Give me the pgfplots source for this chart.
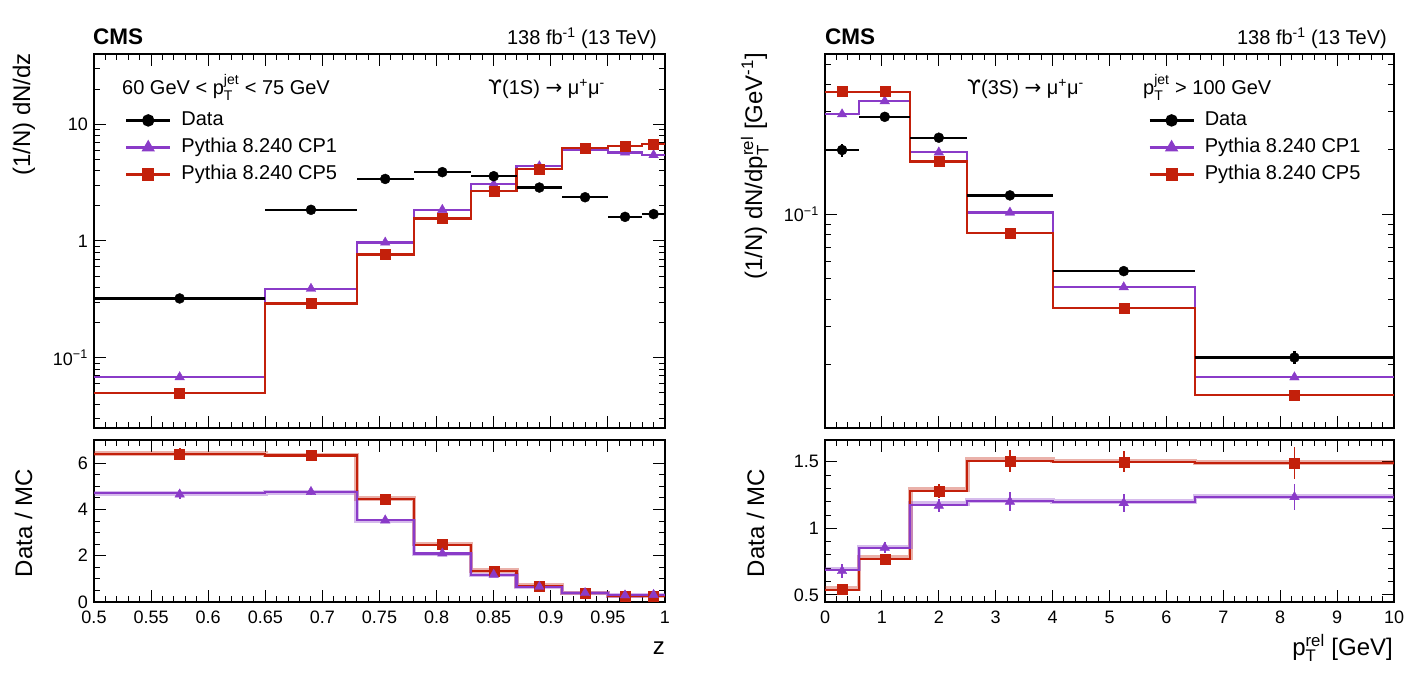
\documentclass[border=0pt]{standalone}
\usepackage{pgfplots}
\pgfplotsset{compat=1.18}
\usepackage{amsmath}
\usepackage{fontspec}
\setmainfont{Liberation Sans}
\newfontfamily\dejavu{DejaVu Sans}
\definecolor{cpone}{HTML}{8A3BC8}
\definecolor{cpfive}{HTML}{C3200B}
\newcommand{\fs}[1]{\fontsize{#1bp}{#1bp}\selectfont}

\pgfplotsset{
  rootax/.style={
    scale only axis,
    axis line style={line width=1.1bp},
    tick style={line width=1bp, black},
    tick align=inside,
    tick pos=both,
    major tick length=12bp,
    minor tick length=6bp,
    tick label style={font=\fs{18}, inner sep=1bp},
    xticklabel style={yshift=-8bp},
    yticklabel style={xshift=-5bp},
    /pgf/number format/assume math mode=true,
  },
  hist/.style={const plot, no marks, line width=2.2bp},
  band/.style={const plot, no marks, line width=4.5bp, opacity=0.35},
  datapts/.style={only marks, mark=*, black, mark size=5bp,
    error bars/.cd, x dir=both, x explicit, y dir=both, y explicit,
    error mark=none, error bar style={line width=2.4bp, black}},
  cponepts/.style={only marks, mark=triangle*, cpone, mark size=5.5bp,
    error bars/.cd, y dir=both, y explicit,
    error mark=none, error bar style={line width=1.8bp, cpone}},
  cpfivepts/.style={only marks, mark=square*, cpfive, mark size=5bp,
    error bars/.cd, y dir=both, y explicit,
    error mark=none, error bar style={line width=1.8bp, cpfive}},
  leg/.style={
    legend cell align=left,
    legend image code/.code={\draw[mark repeat=2,mark phase=2,##1] plot coordinates {(0bp,0bp) (22bp,0bp) (44bp,0bp)};},
    legend style={draw=none, fill=none, inner sep=0pt, font=\fs{20},
      row sep=9bp,
      nodes={inner sep=0pt, text height=14bp, text depth=4bp},
      /tikz/every odd column/.append style={column sep=10bp}},
  },
}

\begin{document}
\begin{tikzpicture}
\path (0,0) rectangle (1423bp,686bp);

% ---------------- Left top ----------------
\begin{axis}[rootax, leg,
  at={(94bp,258bp)}, anchor=south west, width=571bp, height=374bp,
  xmin=0.5, xmax=1, ymode=log, ymin=0.025, ymax=40,
  xtick={0.5,0.55,0.6,0.65,0.7,0.75,0.8,0.85,0.9,0.95,1}, minor x tick num=4,
  xticklabels={},
  ytick={0.1,1,10}, yticklabels={10\textsuperscript{−1},1,10},
  minor ytick={0.03,0.04,0.05,0.06,0.07,0.08,0.09,0.2,0.3,0.4,0.5,0.6,0.7,0.8,0.9,2,3,4,5,6,7,8,9,20,30,40},
  legend style={at={(0.054,0.847)}, anchor=north west},
]
\addlegendimage{black, line width=2.4bp, mark=*, mark size=5bp}
\addlegendentry{Data}
\addlegendimage{cpone, line width=2.2bp, mark=triangle*, mark size=5.5bp}
\addlegendentry{Pythia 8.240 CP1}
\addlegendimage{cpfive, line width=2.2bp, mark=square*, mark size=5bp}
\addlegendentry{Pythia 8.240 CP5}
\addplot[hist, cpone] coordinates {(0.5,0.0682)(0.65,0.390)(0.73,0.971)(0.78,1.85)(0.83,3.06)(0.87,4.37)(0.91,6.06)(0.95,5.74)(0.98,5.45)(1.0,5.45)};
\addplot[hist, cpfive] coordinates {(0.5,0.050)(0.65,0.292)(0.73,0.766)(0.78,1.56)(0.83,2.69)(0.87,4.15)(0.91,6.25)(0.95,6.55)(0.98,6.73)(1.0,6.73)};
\addplot[cponepts] coordinates {(0.575,0.0682)(0.69,0.390)(0.755,0.971)(0.805,1.85)(0.85,3.06)(0.89,4.37)(0.93,6.06)(0.965,5.74)(0.99,5.45)};
\addplot[cpfivepts] coordinates {(0.575,0.050)(0.69,0.292)(0.755,0.766)(0.805,1.56)(0.85,2.69)(0.89,4.15)(0.93,6.25)(0.965,6.55)(0.99,6.73)};
\addplot[datapts] coordinates {
 (0.575,0.322) +- (0.075,0.012)
 (0.69,1.85) +- (0.04,0.05)
 (0.755,3.40) +- (0.025,0.08)
 (0.805,3.89) +- (0.025,0.08)
 (0.85,3.59) +- (0.02,0.08)
 (0.89,2.87) +- (0.02,0.07)
 (0.93,2.37) +- (0.02,0.06)
 (0.965,1.61) +- (0.015,0.05)
 (0.99,1.70) +- (0.01,0.05)};
\end{axis}

% ---------------- Left bottom ----------------
\begin{axis}[rootax,
  at={(94bp,84bp)}, anchor=south west, width=571bp, height=162bp,
  xmin=0.5, xmax=1, ymin=0, ymax=7,
  xtick={0.5,0.55,0.6,0.65,0.7,0.75,0.8,0.85,0.9,0.95,1}, minor x tick num=4,
  xticklabels={0.5,0.55,0.6,0.65,0.7,0.75,0.8,0.85,0.9,0.95,1},
  ytick={0,2,4,6}, minor y tick num=3,
]
\addplot[band, cpfive] coordinates {(0.5,6.42)(0.65,6.35)(0.73,4.47)(0.78,2.50)(0.83,1.36)(0.87,0.72)(0.91,0.39)(0.95,0.26)(0.98,0.27)(1.0,0.27)};
\addplot[band, cpone] coordinates {(0.5,4.68)(0.65,4.74)(0.73,3.51)(0.78,2.08)(0.83,1.16)(0.87,0.64)(0.91,0.38)(0.95,0.28)(0.98,0.30)(1.0,0.30)};
\addplot[hist, cpfive] coordinates {(0.5,6.40)(0.65,6.33)(0.73,4.45)(0.78,2.48)(0.83,1.34)(0.87,0.70)(0.91,0.38)(0.95,0.25)(0.98,0.26)(1.0,0.26)};
\addplot[hist, cpone] coordinates {(0.5,4.70)(0.65,4.76)(0.73,3.53)(0.78,2.10)(0.83,1.18)(0.87,0.66)(0.91,0.39)(0.95,0.29)(0.98,0.31)(1.0,0.31)};
\addplot[cpfivepts] coordinates {
 (0.575,6.40) +- (0,0.27) (0.69,6.33) +- (0,0.15) (0.755,4.45) +- (0,0.12)
 (0.805,2.48) +- (0,0.07) (0.85,1.34) +- (0,0.05) (0.89,0.70) +- (0,0.03)
 (0.93,0.38) +- (0,0.02) (0.965,0.25) +- (0,0.02) (0.99,0.26) +- (0,0.02)};
\addplot[cponepts] coordinates {
 (0.575,4.65) +- (0,0.2) (0.69,4.76) +- (0,0.12) (0.755,3.53) +- (0,0.1)
 (0.805,2.10) +- (0,0.06) (0.85,1.18) +- (0,0.04) (0.89,0.66) +- (0,0.03)
 (0.93,0.39) +- (0,0.02) (0.965,0.29) +- (0,0.02) (0.99,0.31) +- (0,0.02)};
\end{axis}

% ---------------- Right top ----------------
\begin{axis}[rootax, leg,
  at={(825bp,258bp)}, anchor=south west, width=569bp, height=374bp,
  xmin=0, xmax=10, ymode=log, ymin=0.0101, ymax=0.557,
  xtick={0,1,...,10}, minor x tick num=4, xticklabels={},
  ytick={0.1}, yticklabels={10\textsuperscript{−1}},
  minor ytick={0.02,0.03,0.04,0.05,0.06,0.07,0.08,0.09,0.2,0.3,0.4,0.5},
  legend style={at={(0.568,0.847)}, anchor=north west},
]
\addlegendimage{black, line width=2.4bp, mark=*, mark size=5bp}
\addlegendentry{Data}
\addlegendimage{cpone, line width=2.2bp, mark=triangle*, mark size=5.5bp}
\addlegendentry{Pythia 8.240 CP1}
\addlegendimage{cpfive, line width=2.2bp, mark=square*, mark size=5bp}
\addlegendentry{Pythia 8.240 CP5}
\addplot[hist, cpone] coordinates {(0,0.292)(0.6,0.336)(1.5,0.194)(2.5,0.1018)(4,0.0457)(6.5,0.0174)(10,0.0174)};
\addplot[hist, cpfive] coordinates {(0,0.372)(0.6,0.372)(1.5,0.176)(2.5,0.0815)(4,0.0365)(6.5,0.0144)(10,0.0144)};
\addplot[cponepts] coordinates {(0.3,0.292)(1.05,0.336)(2.0,0.194)(3.25,0.1018)(5.25,0.0457)(8.25,0.0174)};
\addplot[cpfivepts] coordinates {(0.3,0.372)(1.05,0.372)(2.0,0.176)(3.25,0.0815)(5.25,0.0365)(8.25,0.0144)};
\addplot[datapts] coordinates {
 (0.3,0.199) +- (0.3,0.014)
 (1.05,0.284) +- (0.45,0.006)
 (2.0,0.227) +- (0.5,0.005)
 (3.25,0.1223) +- (0.75,0.0025)
 (5.25,0.0543) +- (1.25,0.0012)
 (8.25,0.0215) +- (1.75,0.0015)};
\end{axis}

% ---------------- Right bottom ----------------
\begin{axis}[rootax,
  at={(825bp,84bp)}, anchor=south west, width=569bp, height=162bp,
  xmin=0, xmax=10, ymin=0.447, ymax=1.663,
  xtick={0,1,...,10}, minor x tick num=4,
  ytick={0.5,1,1.5}, yticklabels={0.5,1,1.5}, minor y tick num=4,
]
\addplot[band, cpfive] coordinates {(0,0.55)(0.6,0.78)(1.5,1.29)(2.5,1.515)(4,1.505)(6.5,1.495)(10,1.495)};
\addplot[band, cpone] coordinates {(0,0.695)(0.6,0.86)(1.5,1.185)(2.5,1.21)(4,1.20)(6.5,1.24)(10,1.24)};
\addplot[hist, cpfive] coordinates {(0,0.54)(0.6,0.77)(1.5,1.28)(2.5,1.505)(4,1.50)(6.5,1.49)(10,1.49)};
\addplot[hist, cpone] coordinates {(0,0.69)(0.6,0.855)(1.5,1.178)(2.5,1.205)(4,1.195)(6.5,1.238)(10,1.238)};
\addplot[cpfivepts] coordinates {
 (0.3,0.54) +- (0,0.04) (1.05,0.77) +- (0,0.03) (2.0,1.28) +- (0,0.05)
 (3.25,1.505) +- (0,0.08) (5.25,1.50) +- (0,0.08) (8.25,1.49) +- (0,0.12)};
\addplot[cponepts] coordinates {
 (0.3,0.68) +- (0,0.05) (1.05,0.855) +- (0,0.04) (2.0,1.17) +- (0,0.05)
 (3.25,1.20) +- (0,0.07) (5.25,1.19) +- (0,0.07) (8.25,1.235) +- (0,0.10)};
\end{axis}

% ---------------- Texts ----------------
\node[anchor=base west, inner sep=0pt, font=\bfseries\fs{22.5}] at (93bp,641bp) {CMS};
\node[anchor=base east, inner sep=0pt, font=\fs{20}] at (657bp,641bp) {138 fb\textsuperscript{-1} (13 TeV)};
\node[anchor=base west, inner sep=0pt, font=\bfseries\fs{22.5}] at (825bp,641bp) {CMS};
\node[anchor=base east, inner sep=0pt, font=\fs{20}] at (1387bp,641bp) {138 fb\textsuperscript{-1} (13 TeV)};

\node[anchor=base west, inner sep=0pt, font=\fs{20}] at (122bp,591bp) {60 GeV < p$_{\text{T}}^{\text{jet}}$ < 75 GeV};
\node[anchor=base west, inner sep=0pt, font=\fs{20}] at (488bp,591bp) {{\dejavu ϒ}(1S) {\dejavu →} μ\textsuperscript{+}μ\textsuperscript{-}};
\node[anchor=base west, inner sep=0pt, font=\fs{20}] at (967bp,591bp) {{\dejavu ϒ}(3S) {\dejavu →} μ\textsuperscript{+}μ\textsuperscript{-}};
\node[anchor=base west, inner sep=0pt, font=\fs{20}] at (1143bp,591bp) {p$_{\text{T}}^{\text{jet}}$ > 100 GeV};

\node[anchor=base east, rotate=90, inner sep=0pt, font=\fs{24}] at (30bp,633bp) {(1/N) dN/dz};
\node[anchor=base, rotate=90, inner sep=0pt, font=\fs{24}] at (32bp,163bp) {Data / MC};
\node[anchor=base east, rotate=90, inner sep=0pt, font=\fs{24}] at (762bp,633bp) {(1/N) dN/dp$_{\text{T}}^{\text{rel}}$ [GeV\textsuperscript{-1}]};
\node[anchor=base, rotate=90, inner sep=0pt, font=\fs{24}] at (764bp,163bp) {Data / MC};

\node[anchor=base east, inner sep=0pt, font=\fs{24}] at (665bp,32bp) {z};
\node[anchor=base east, inner sep=0pt, font=\fs{24}] at (1393bp,31bp) {p$_{\text{T}}^{\text{rel}}$ [GeV]};
\end{tikzpicture}
\end{document}
